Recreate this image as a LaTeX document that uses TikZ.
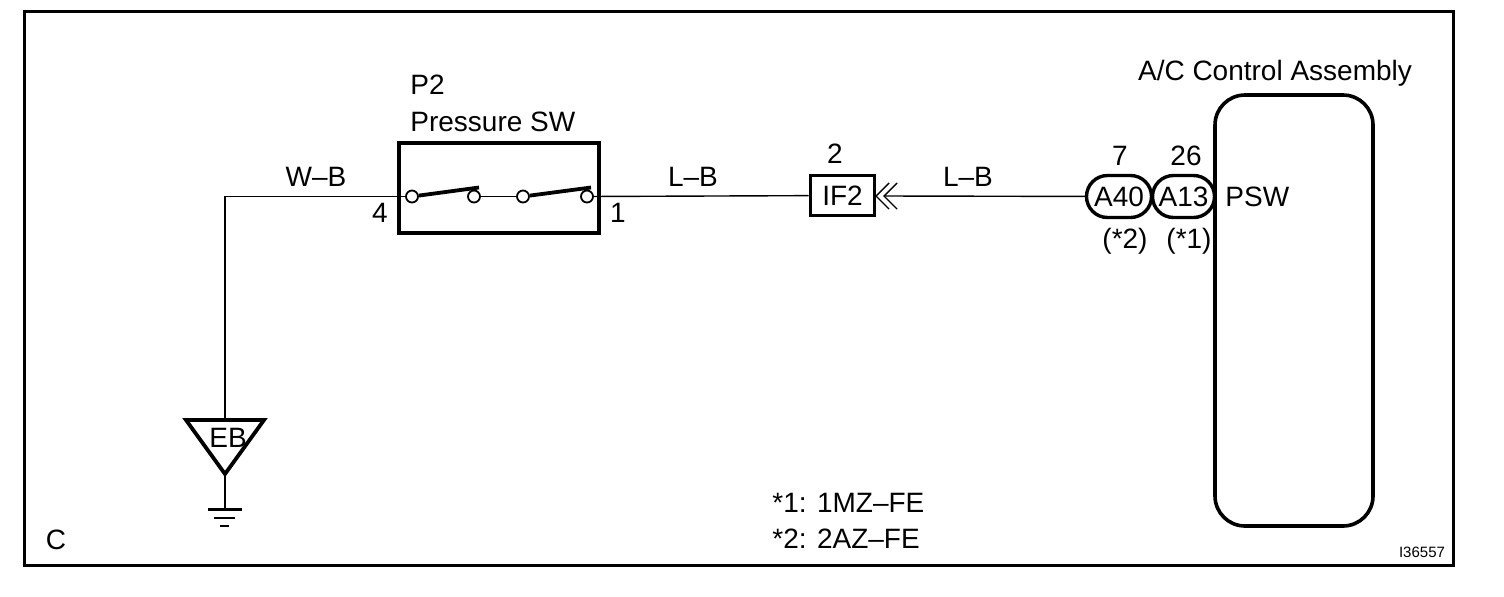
\documentclass[tikz,border=0pt]{standalone}
\usepackage{fontspec}
\setmainfont{Liberation Sans}
\usetikzlibrary{positioning}
\tikzstyle{lab}=[inner sep=0pt,font=\fontsize{14}{14}\selectfont]
\tikzstyle{cont}=[shape=circle,draw,fill=white,line width=0.9pt,inner sep=0pt,minimum size=6pt]
\tikzstyle{conn}=[shape=rectangle,rounded corners=10.5pt,draw,line width=1.7pt,inner sep=0pt,minimum height=21pt,font=\fontsize{14}{14}\selectfont]
\tikzstyle{wire}=[draw,line width=0.7pt]
\tikzstyle{blade}=[draw,line width=1.9pt]
\begin{document}
\begin{tikzpicture}[x=0.5pt,y=-0.5pt]
		\useasboundingbox (0,0) rectangle (1504,596);
		\node[draw,line width=1.5pt,inner sep=0pt,minimum width=714.5pt,minimum height=277pt] (frame) at (738.5,288) {};
		\node[lab] (c) at (56,540) {C};
		\node[lab,font=\fontsize{7.5}{8}\selectfont] (code) at (1422,552) {I36557};
%		
		\node[lab,anchor=west] (pname) at (410,85) {P2};
		\node[lab,anchor=west] (psw) at (410,122) {Pressure SW};
		\node[draw,line width=1.8pt,inner sep=0pt,minimum width=100pt,minimum height=45pt] (sw) at (499,188) {};
		\node[cont] (c1) at (412,196.5) {};
		\node[cont] (c2) at (474,196.5) {};
		\node[cont] (c3) at (523,196.5) {};
		\node[cont] (c4) at (587,196.5) {};
		\coordinate (t2) at (479,187.5);
		\coordinate (t4) at (591,187.5);
		\draw[blade] (c1) -- (t2);
		\draw[blade] (c3) -- (t4);
		\draw[wire] (c2) -- (c3);
%		
		\node[draw,line width=1.8pt,inner sep=0pt,minimum width=32pt,minimum height=20pt,font=\fontsize{14}{14}\selectfont] (if2) at (842.5,195.5) {IF2};
		\node[conn,minimum width=32.5pt] (a40) at (1119,196.5) {A40};
		\node[conn,minimum width=31pt] (a13) at (1183.5,196.5) {A13};
		\node[draw,line width=1.8pt,rounded corners=15pt,inner sep=0pt,minimum width=79pt,minimum height=215.5pt] (acc) at (1294,310.5) {};
		\node[lab] (acname) at (1275,73) {A/C Control Assembly};
		\node[lab,anchor=west] (pswlab) at (1225,197) {PSW};
%		
		\node[lab] (n4) at (380,213) {4};
		\node[lab] (n1) at (618,213) {1};
		\node[lab] (n2) at (835,154) {2};
		\node[lab] (n7) at (1120,156) {7};
		\node[lab] (n26) at (1186,156) {26};
		\node[lab] (s2) at (1125,241) {(*2)};
		\node[lab] (s1) at (1189,241) {(*1)};
		\node[lab] (wb) at (316,177) {W--B};
		\node[lab] (lb1) at (693,177) {L--B};
		\node[lab] (lb2) at (968,177) {L--B};
		\node[lab,anchor=west] (m1) at (772,503) {*1: 1MZ--FE};
		\node[lab,anchor=west] (m2) at (772,539) {*2: 2AZ--FE};
%		
		\coordinate (corner) at (225,196.5);
		\coordinate (ebl) at (186,420);
		\coordinate (ebr) at (264,420);
		\coordinate (ebt) at (225,474);
		\coordinate (ebm) at (225,420);
		\coordinate (gnd) at (225,509);
		\coordinate (tip1) at (876,196);
		\coordinate (tip2) at (884,196);
		\draw[line width=1.9pt,line join=miter] (ebl) -- (ebr) -- (ebt) -- cycle;
		\node[lab] (eb) at (228,438) {EB};
		\draw[wire] (c1) -- (corner) -- (ebm);
		\draw[wire] (ebt) -- (gnd);
		\draw[wire] (c4) -- (if2);
		\draw[wire] (tip2) -- (a40);
		\draw[line width=0.7pt] (889,183) -- (tip1) -- (889,209);
		\draw[line width=0.7pt] (897,183) -- (tip2) -- (897,209);
		\draw[line width=1.5pt] (208,509) -- (242,509);
		\draw[line width=1.2pt] (214,518) -- (235,518);
		\draw[line width=1.2pt] (220,526) -- (229,526);
		\end{tikzpicture}
\end{document}
